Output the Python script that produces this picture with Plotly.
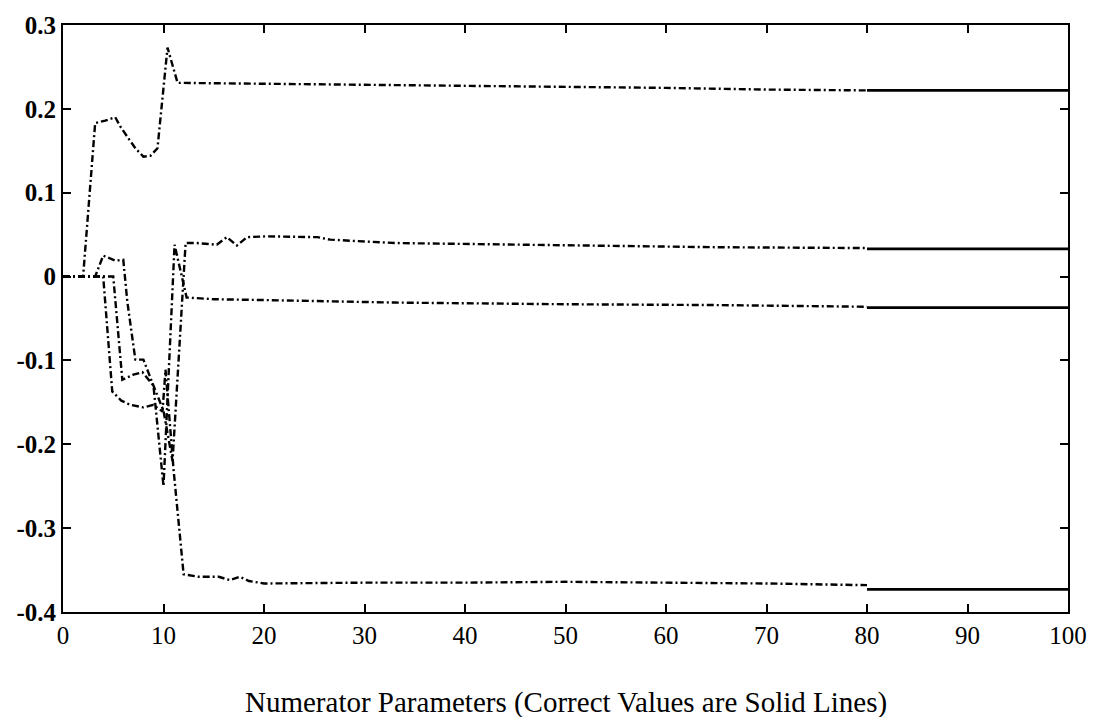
import plotly.graph_objects as go

# Parameter estimates per iteration (four numerator parameters)
iters_a = [0, 2, 3.2, 4.2, 5.2, 5.7, 6.5, 7.2, 8, 8.7, 9.4, 10.4, 11.4, 20, 30, 40, 50, 60, 70, 80]
est_a = [0, 0, 0.183, 0.186, 0.19, 0.179, 0.165, 0.153, 0.143, 0.144, 0.153, 0.273, 0.231,
         0.230, 0.228, 0.227, 0.226, 0.225, 0.223, 0.222]

iters_b = [0, 3.2, 4, 5.2, 6, 6.4, 7.2, 8, 9, 10, 10.9, 12.2, 13.3, 15.3, 16.3, 17.3, 18.3,
           20.3, 25.3, 26.6, 33, 50, 65, 80]
est_b = [0, 0, 0.025, 0.019, 0.02, -0.03, -0.099, -0.099, -0.13, -0.16, -0.22, 0.04, 0.04,
         0.038, 0.047, 0.037, 0.047, 0.048, 0.047, 0.044, 0.04, 0.037, 0.035, 0.034]

iters_c = [0, 5, 5.9, 7, 7.9, 9, 10, 11.1, 12.3, 15, 20, 33, 50, 65, 80]
est_c = [0, 0, -0.123, -0.117, -0.114, -0.13, -0.25, 0.038, -0.025, -0.027, -0.028,
         -0.031, -0.033, -0.034, -0.036]

iters_d = [0, 4, 4.9, 5.8, 6.7, 8, 9, 9.9, 10.2, 11, 12, 13.5, 15.5, 16.6, 17.6, 18.5,
           20, 30, 40, 50, 60, 70, 80]
est_d = [0, 0, -0.137, -0.148, -0.153, -0.156, -0.153, -0.161, -0.111, -0.23, -0.355,
         -0.358, -0.358, -0.362, -0.358, -0.363, -0.366, -0.365, -0.365, -0.364, -0.365,
         -0.366, -0.368]

# Correct parameter values, drawn as solid lines over the last iterations
correct_x = [80, 100]
correct_values = [0.222, 0.033, -0.037, -0.373]

x_ticks = [0, 10, 20, 30, 40, 50, 60, 70, 80, 90, 100]
y_ticks = [-0.4, -0.3, -0.2, -0.1, 0, 0.1, 0.2, 0.3]
y_tick_text = ["-0.4", "-0.3", "-0.2", "-0.1", "0", "0.1", "0.2", "0.3"]

fig = go.Figure()

dash_style = dict(color="black", width=2.4, dash="7px,3px,2px,3px")
for xs, ys in [(iters_a, est_a), (iters_b, est_b), (iters_c, est_c), (iters_d, est_d)]:
    fig.add_trace(go.Scatter(x=xs, y=ys, mode="lines", line=dash_style,
                             showlegend=False, hoverinfo="skip"))

for v in correct_values:
    fig.add_trace(go.Scatter(x=correct_x, y=[v, v], mode="lines",
                             line=dict(color="black", width=2.6),
                             showlegend=False, hoverinfo="skip"))

serif = "Liberation Serif"
fig.update_layout(
    width=1100, height=717, autosize=False,
    margin=dict(l=63, r=32, t=21, b=105),
    paper_bgcolor="white", plot_bgcolor="white",
    xaxis=dict(
        range=[0, 100], tickvals=x_ticks, ticks="inside", ticklen=8, tickwidth=1.5,
        tickcolor="black", showline=True, linecolor="black", linewidth=2,
        mirror="ticks", showgrid=False, zeroline=False,
        tickfont=dict(family=serif, size=25, color="black"),
    ),
    yaxis=dict(
        range=[-0.4, 0.3], tickvals=y_ticks, ticktext=y_tick_text, ticks="inside",
        ticklen=8, tickwidth=1.5, tickcolor="black", showline=True, linecolor="black",
        linewidth=2, mirror="ticks", showgrid=False, zeroline=False,
        tickfont=dict(family=serif, size=25, color="black", weight="bold"),
    ),
    annotations=[dict(
        text="Numerator Parameters (Correct Values are Solid Lines)",
        xref="paper", yref="paper", x=0.5, y=-0.155, xanchor="center", yanchor="middle",
        showarrow=False, font=dict(family=serif, size=29, color="black"),
    )],
)

fig.write_html("out.html")
